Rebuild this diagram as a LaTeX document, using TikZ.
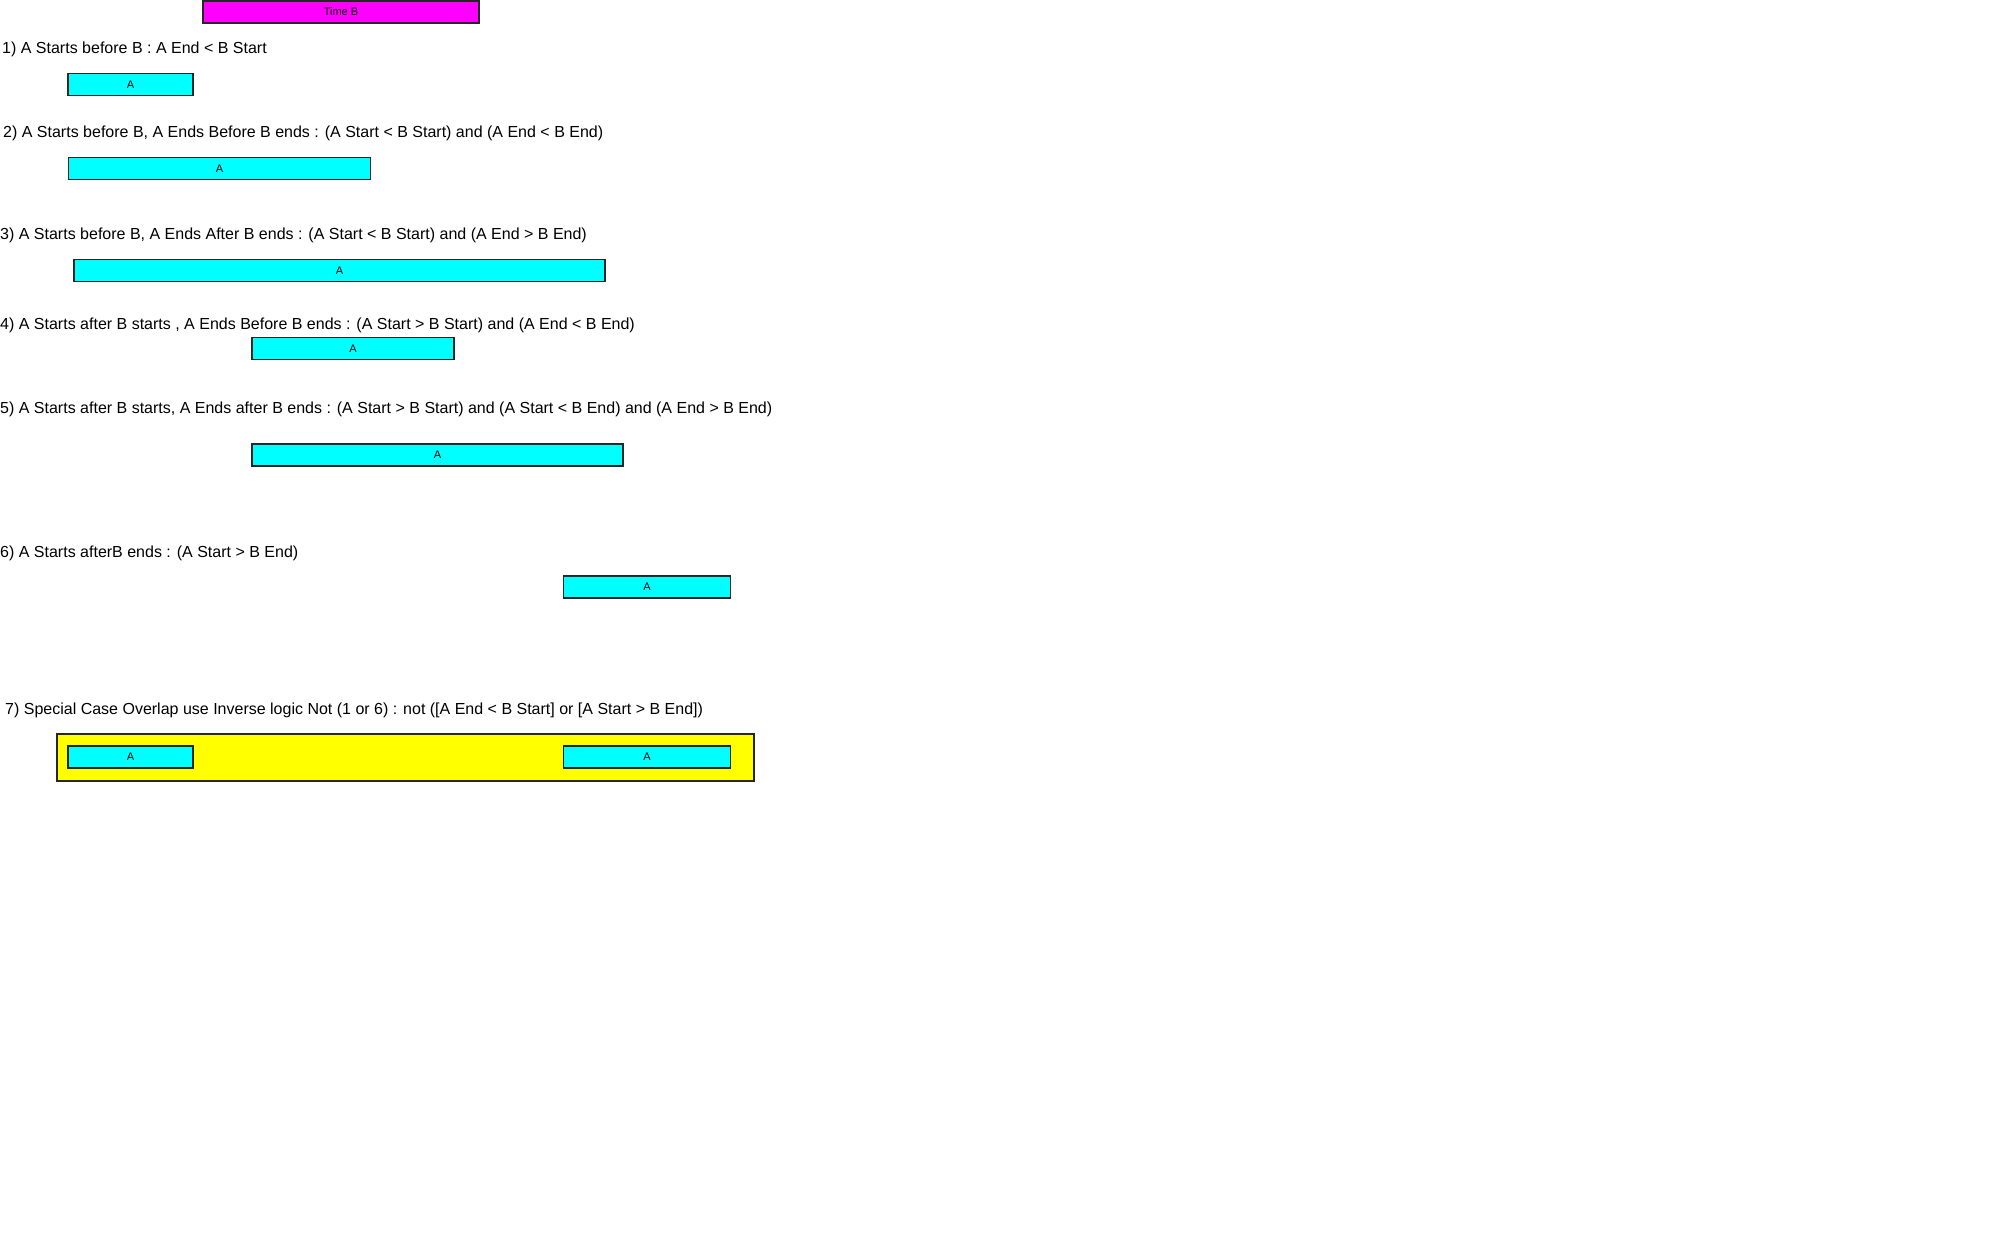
\documentclass[tikz,border=0pt]{standalone}
\usepackage{fontspec}
\setmainfont{Liberation Sans}
\usetikzlibrary{positioning}

\definecolor{barcyan}{RGB}{0,255,255}
\definecolor{barmagenta}{RGB}{255,0,255}
\definecolor{baryellow}{RGB}{255,255,0}

\tikzset{
  bar/.style={draw=black!85, line width=1.1pt, rectangle, inner sep=0pt, minimum height=22pt, font=\fontsize{11}{12}\selectfont},
  abar/.style={bar, fill=barcyan},
  bbar/.style={bar, fill=barmagenta},
  caseline/.style={anchor=west, inner sep=0pt, text height=11.5pt, text depth=0pt, font=\fontsize{16}{19}\selectfont}
}

\begin{document}
\begin{tikzpicture}[x=1pt, y=-1pt]
\useasboundingbox (0,0) rectangle (2016,1260);
\node[bbar, minimum width=276pt] (timeB) at (341,12) {Time B};
\node[caseline] (lbl1) at (2,48) {1) A Starts before B : A End < B Start};
\node[abar, minimum width=125pt] (a1) at (130.5,84.5) {A};
\node[caseline] (lbl2) at (3,132) {2) A Starts before B, A Ends Before B ends : (A Start < B Start) and (A End < B End)};
\node[abar, minimum width=302pt] (a2) at (219.5,168.5) {A};
\node[caseline] (lbl3) at (0,234) {3) A Starts before B, A Ends After B ends : (A Start < B Start) and (A End > B End)};
\node[abar, minimum width=531pt] (a3) at (339.5,270.5) {A};
\node[caseline] (lbl4) at (0,324) {4) A Starts after B starts , A Ends Before B ends : (A Start > B Start) and (A End < B End)};
\node[abar, minimum width=202pt] (a4) at (353,348.7) {A};
\node[caseline] (lbl5) at (0,408) {5) A Starts after B starts, A Ends after B ends : (A Start > B Start) and (A Start < B End) and (A End > B End)};
\node[abar, minimum width=371pt] (a5) at (437.5,455) {A};
\node[caseline] (lbl6) at (0,552) {6) A Starts afterB ends : (A Start > B End)};
\node[abar, minimum width=167pt] (a6) at (647,587) {A};
\node[caseline] (lbl7) at (5,709) {7) Special Case Overlap use Inverse logic Not (1 or 6) : not ([A End < B Start] or [A Start > B End])};
\node[bar, fill=baryellow, minimum width=697pt, minimum height=47pt] (overlap) at (405.5,757.5) {};
\node[abar, minimum width=125pt] (a7s) at (130.5,757) {A};
\node[abar, minimum width=167pt] (a7e) at (647,757) {A};
\end{tikzpicture}
\end{document}
